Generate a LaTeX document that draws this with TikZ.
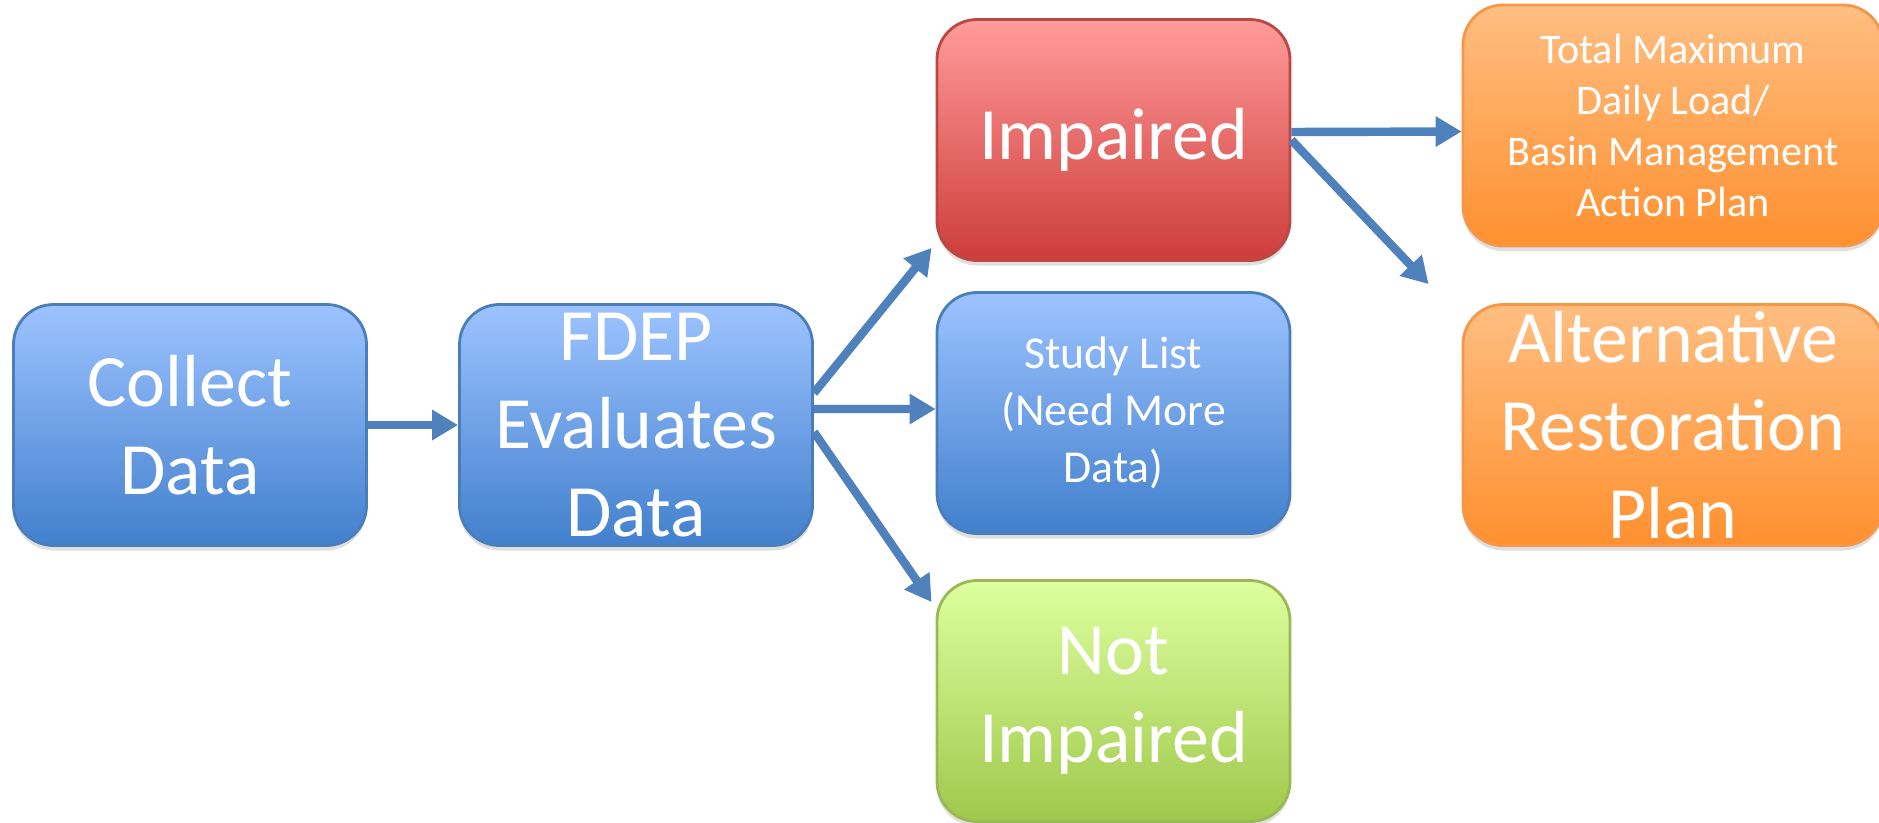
\documentclass[tikz,border=0pt]{standalone}
\usepackage{fontspec}
\setmainfont{Carlito}
\usetikzlibrary{arrows.meta,shadows}
\definecolor{flowblue}{HTML}{4F81BD}
\definecolor{blutop}{HTML}{9DC3FF}
\definecolor{blubot}{HTML}{4280CD}
\definecolor{bluedge}{HTML}{4A7EBB}
\definecolor{redtop}{HTML}{FF9B9A}
\definecolor{redbot}{HTML}{CD3D3A}
\definecolor{rededge}{HTML}{BA4844}
\definecolor{grntop}{HTML}{DDFF9F}
\definecolor{grnbot}{HTML}{A0C84C}
\definecolor{grnedge}{HTML}{98B954}
\definecolor{orgtop}{HTML}{FFBE82}
\definecolor{orgbot}{HTML}{FF902F}
\definecolor{orgedge}{HTML}{F79646}
\begin{document}
\begin{tikzpicture}[
    stage/.style={rounded corners=0.4cm, minimum width=3.53cm, minimum height=2.41cm,
      line width=0.8pt, text=white, align=center, inner sep=0pt,
      drop shadow={shadow xshift=0cm, shadow yshift=-0.05cm, opacity=0.25}},
    bigtxt/.style={font=\fontsize{21}{25}\selectfont},
    smalltxt/.style={font=\fontsize{13}{16.2}\selectfont},
    blubox/.style={stage, draw=bluedge, top color=blutop, bottom color=blubot},
    redbox/.style={stage, draw=rededge, top color=redtop, bottom color=redbot},
    grnbox/.style={stage, draw=grnedge, top color=grntop, bottom color=grnbot},
    orgbox/.style={stage, draw=orgedge, top color=orgtop, bottom color=orgbot, minimum width=4.2cm},
    flow/.style={draw=flowblue, line width=2.4pt, -{Triangle[length=0.26cm, width=0.29cm]}}
  ]
  \useasboundingbox (0, 0) rectangle (18.79, -8.22);
  \node[blubox, bigtxt] (collect) at (1.90, -4.25) {Collect\\Data};
  \node[blubox, bigtxt] (fdep) at (6.36, -4.25) {FDEP\\Evaluates\\Data};
  \node[redbox, bigtxt] (impaired) at (11.135, -1.40) {Impaired};
  \node[blubox, smalltxt] (study) at (11.135, -4.13) {Study List\\(Need More\\Data)};
  \node[grnbox, bigtxt] (notimp) at (11.135, -7.01) {Not\\Impaired};
  \node[orgbox, font=\fontsize{12}{14.6}\selectfont] (tmdl) at (16.73, -1.255)
    {Total Maximum\\Daily Load/\\Basin Management\\Action Plan};
  \node[orgbox, bigtxt] (altplan) at (16.73, -4.25) {Alternative\\Restoration\\Plan};
  \draw[flow] (collect) -- (fdep);
  \draw[flow] ([yshift=0.32cm]fdep.east) -- ([xshift=-0.04cm, yshift=0.14cm]impaired.south west);
  \draw[flow] ([yshift=0.16cm]fdep.east) -- ([yshift=0.04cm]study.west);
  \draw[flow] ([yshift=-0.07cm]fdep.east) -- ([xshift=-0.04cm, yshift=-0.23cm]notimp.north west);
  \draw[flow] ([yshift=0.08cm]impaired.east) -- ([yshift=-0.06cm]tmdl.west);
  \draw[flow] (impaired.east) -- ([xshift=-0.33cm, yshift=0.19cm]altplan.north west);
\end{tikzpicture}
\end{document}
